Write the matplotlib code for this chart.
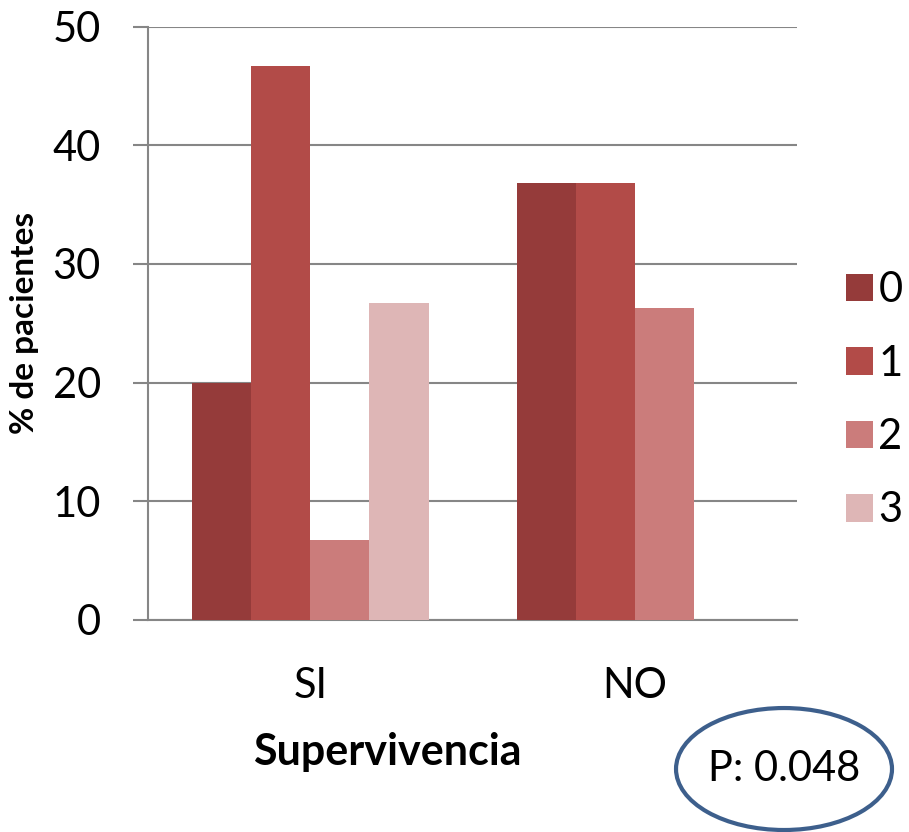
import numpy as np
import matplotlib
matplotlib.use("Agg")
import matplotlib.pyplot as plt
from matplotlib.patches import Ellipse

plt.rcParams['font.family'] = ['Lato', 'DejaVu Sans']

categories = ["SI", "NO"]
series_names = ["0", "1", "2", "3"]
values = {
    "0": [20.0, 36.8],
    "1": [46.7, 36.8],
    "2": [6.7, 26.3],
    "3": [26.7, 0.0],
}
colors = ["#953B3A", "#B24B48", "#CB7C7B", "#DEB6B6"]
yticks = [0, 10, 20, 30, 40, 50]

fig = plt.figure(figsize=(9.09, 8.32), dpi=100)
ax = fig.add_axes([0.163, 0.255, 0.714, 0.713])

x = np.arange(len(categories))
w = 0.182
for k, name in enumerate(series_names):
    ax.bar(x + (k - 1.5) * w, values[name], width=w, color=colors[k],
           label=name, zorder=3)

ax.set_xlim(-0.5, 1.5)
ax.set_ylim(0, 50)
ax.set_yticks(yticks)
ax.set_xticks(x)
ax.set_xticklabels(categories)
ax.grid(axis="y", color="#868686", linewidth=1.5, zorder=0)
for s in ["top", "right"]:
    ax.spines[s].set_visible(False)
ax.spines["left"].set_color("#868686")
ax.spines["left"].set_linewidth(1.5)
ax.spines["bottom"].set_color("#868686")
ax.spines["bottom"].set_linewidth(1.5)
ax.tick_params(axis="y", length=11, width=1.5, color="#868686", labelsize=30, pad=23)
ax.tick_params(axis="x", length=0, labelsize=30, pad=34)

ax.set_xlabel("Supervivencia", fontsize=31, fontweight="bold")
ax.xaxis.set_label_coords(0.368, -0.189)
ax.set_ylabel("% de pacientes", fontsize=24, fontweight="bold", labelpad=10)

ax.legend(loc="center left", bbox_to_anchor=(1.0, 0.37), frameon=False,
          fontsize=30, handlelength=0.65, handleheight=0.65,
          handletextpad=0.12, labelspacing=0.85, borderaxespad=0.78)

ell = Ellipse((0.8625, 0.0757), 0.2376, 0.1466, transform=fig.transFigure,
              fill=False, edgecolor="#3D5F8C", linewidth=3)
fig.patches.append(ell)
fig.text(0.8625, 0.0757, "P: 0.048", fontsize=30, ha="center", va="center")

fig.savefig("out.png", dpi=100)
